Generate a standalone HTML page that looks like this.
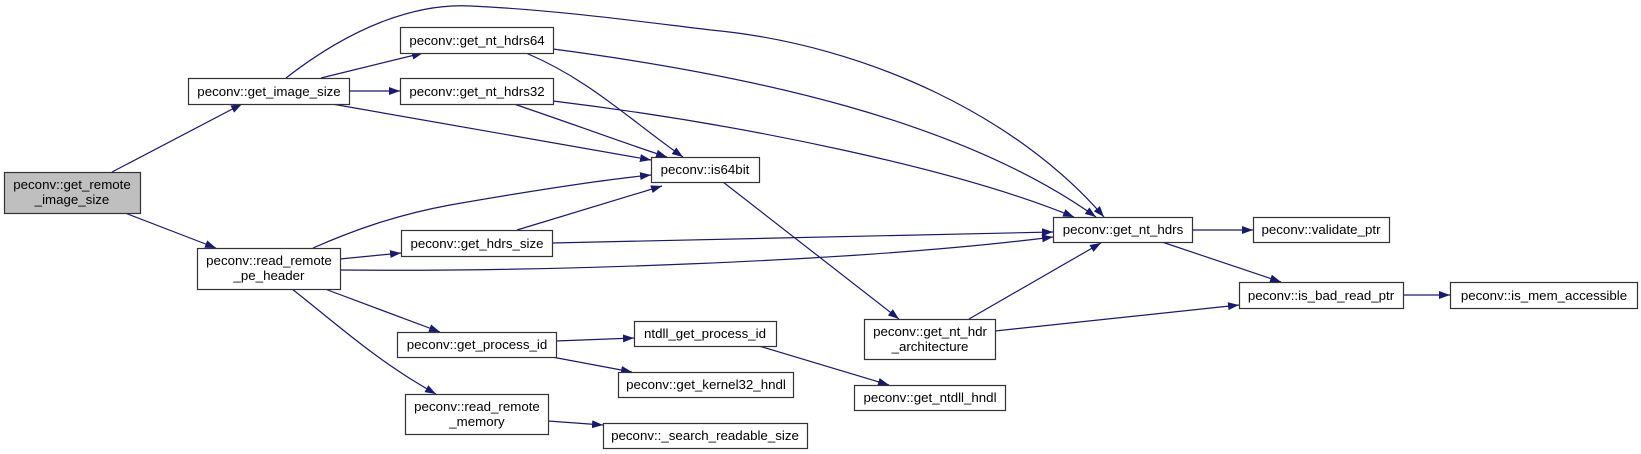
<!DOCTYPE html>
<html><head><meta charset="utf-8"><style>
html,body{margin:0;padding:0;background:#fff;width:1641px;height:454px;overflow:hidden}
svg text{font-family:"Liberation Sans",Arial,sans-serif;font-size:13.3px;fill:#000}
</style></head><body>
<svg width="1641" height="454" viewBox="0 0 1641 454" xmlns="http://www.w3.org/2000/svg">
<defs><marker id="a" markerWidth="11" markerHeight="8" refX="11" refY="4" orient="auto" markerUnits="userSpaceOnUse"><path d="M0,0 L11,4 L0,8 Z" fill="#191970"/></marker></defs>
<g fill="none" stroke="#191970" stroke-width="1.2" marker-end="url(#a)">
<path d="M112,172 L242,104"/>
<path d="M125,213 L216,248"/>
<path d="M321,78 L423,53"/>
<path d="M349,91 L400,91"/>
<path d="M332,104 L651,160"/>
<path d="M286,78 C354,25 418,3 471,6 C557,10 643,22 711,30 C871,45 1021,120 1104,217"/>
<path d="M526,53 C590,80 630,120 683,157"/>
<path d="M553,49 C750,75 960,120 1096,217"/>
<path d="M514,104 C590,130 630,145 667,157"/>
<path d="M553,101 C750,125 960,170 1074,217"/>
<path d="M313,248 C354,230 396,215 450,205 C536,190 600,180 651,175"/>
<path d="M340,259 L401,253"/>
<path d="M340,270 C536,272 857,262 1053,237"/>
<path d="M517,230 L662,186"/>
<path d="M552,243 L1053,232"/>
<path d="M325,289 L440,332"/>
<path d="M292,289 C332,320 375,360 436,394"/>
<path d="M556,341 L634,338"/>
<path d="M552,357 L632,372"/>
<path d="M548,421 L603,425"/>
<path d="M723,182 L899,319"/>
<path d="M969,319 L1101,243"/>
<path d="M995,331 L1239,305"/>
<path d="M759,346 L889,385"/>
<path d="M1192,230 L1253,230"/>
<path d="M1162,242 L1281,282"/>
<path d="M1403,295 L1450,295"/>
</g>
<g stroke="#333" stroke-width="1.2" fill="#fff">
<rect x="4.5" y="172.5" width="136" height="41" fill="#bfbfbf"/>
<rect x="188.5" y="78.5" width="161" height="26"/>
<rect x="197.5" y="248.5" width="143" height="41"/>
<rect x="400.5" y="27.5" width="153" height="26"/>
<rect x="400.5" y="78.5" width="153" height="26"/>
<rect x="401.5" y="230.5" width="151" height="26"/>
<rect x="397.5" y="332.5" width="159" height="25"/>
<rect x="405.5" y="394.5" width="143" height="40"/>
<rect x="651.5" y="157.5" width="108" height="25"/>
<rect x="1053.5" y="217.5" width="139" height="25"/>
<rect x="634.5" y="321.5" width="142" height="25"/>
<rect x="618.5" y="372.5" width="175" height="25"/>
<rect x="603.5" y="423.5" width="204" height="25"/>
<rect x="864.5" y="319.5" width="131" height="40"/>
<rect x="854.5" y="385.5" width="151" height="25"/>
<rect x="1253.5" y="217.5" width="136" height="25"/>
<rect x="1239.5" y="282.5" width="164" height="26"/>
<rect x="1450.5" y="282.5" width="187" height="26"/>
</g>
<g text-anchor="middle">
<text x="72" y="189">peconv::get_remote</text><text x="72" y="204">_image_size</text>
<text x="269" y="96">peconv::get_image_size</text>
<text x="269" y="265">peconv::read_remote</text><text x="269" y="280">_pe_header</text>
<text x="477" y="45">peconv::get_nt_hdrs64</text>
<text x="477" y="96">peconv::get_nt_hdrs32</text>
<text x="477" y="248">peconv::get_hdrs_size</text>
<text x="477" y="349">peconv::get_process_id</text>
<text x="477" y="411">peconv::read_remote</text><text x="477" y="426">_memory</text>
<text x="705" y="174">peconv::is64bit</text>
<text x="1123" y="234">peconv::get_nt_hdrs</text>
<text x="705" y="338">ntdll_get_process_id</text>
<text x="706" y="389">peconv::get_kernel32_hndl</text>
<text x="705" y="440">peconv::_search_readable_size</text>
<text x="930" y="336">peconv::get_nt_hdr</text><text x="930" y="351">_architecture</text>
<text x="930" y="402">peconv::get_ntdll_hndl</text>
<text x="1321" y="234">peconv::validate_ptr</text>
<text x="1321" y="300">peconv::is_bad_read_ptr</text>
<text x="1544" y="300">peconv::is_mem_accessible</text>
</g>
</svg>
</body></html>
